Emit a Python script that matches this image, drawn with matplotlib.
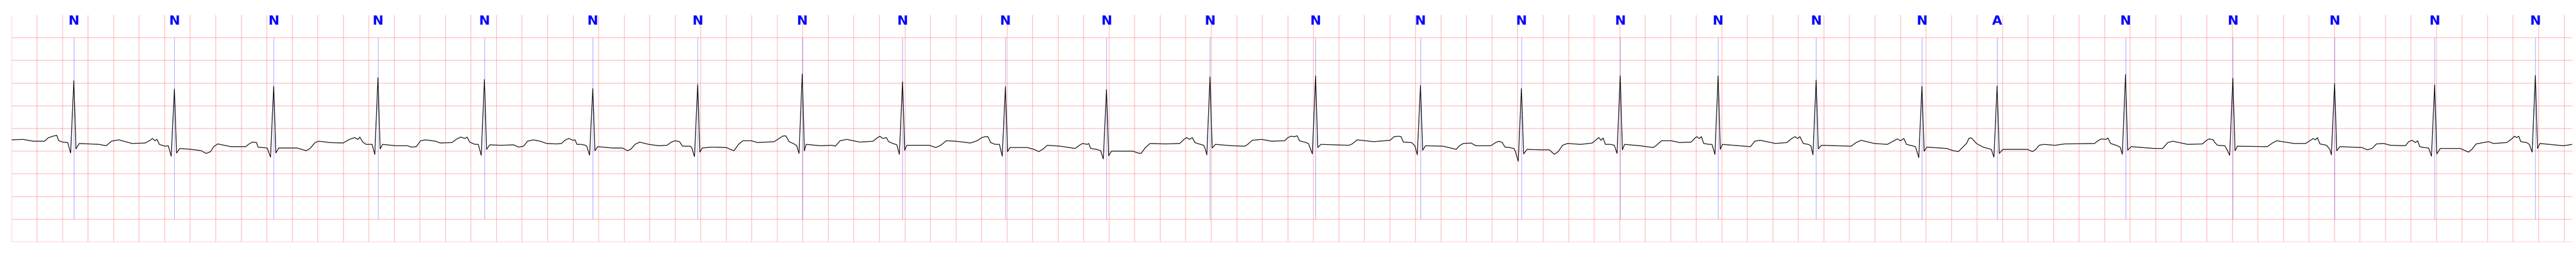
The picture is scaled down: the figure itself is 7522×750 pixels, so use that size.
import numpy as np
import matplotlib
matplotlib.use("Agg")
import matplotlib.pyplot as plt


OUTPUT_FILE = "out.png"

# annotated beats (R peak time in s) and their labels
beat_times = [0.488, 1.276, 2.054, 2.871, 3.705, 4.554, 5.376, 6.195, 6.981, 7.787,
              8.579, 9.390, 10.217, 11.039, 11.830, 12.604, 13.371, 14.139, 14.968, 15.557,
              16.563, 17.404, 18.201, 18.985, 19.774]
beat_labels = ["N", "N", "N", "N", "N", "N", "N", "N", "N", "N",
               "N", "N", "N", "N", "N", "N", "N", "N", "N", "A",
               "N", "N", "N", "N", "N"]

# QRS amplitudes (mV) per beat
r_mv = [1.55, 1.37, 1.43, 1.62, 1.58, 1.38, 1.47, 1.70, 1.53, 1.42,
        1.36, 1.64, 1.66, 1.45, 1.38, 1.66, 1.66, 1.57, 1.43, 1.44,
        1.69, 1.61, 1.49, 1.46, 1.67]
q_mv = [-0.04, -0.11, -0.13, -0.07, -0.09, -0.09, -0.12, -0.05, -0.07, -0.11,
        -0.17, -0.08, -0.06, -0.08, -0.22, -0.05, -0.07, -0.08, -0.14, -0.13,
        -0.07, -0.09, -0.08, -0.11, -0.02]
s_mv = [0.05, -0.04, -0.04, 0.05, 0.04, 0.01, -0.02, 0.01, 0.02, -0.01,
        -0.10, 0.07, 0.08, 0.02, -0.06, 0.03, 0.04, 0.05, 0.00, -0.05,
        0.02, 0.01, 0.01, -0.06, 0.06]

Q_OFFSET = -0.025
S_OFFSET = 0.017

# signal between the QRS complexes (s, mV)
base_t = [
    0.000, 0.091, 0.168, 0.259, 0.285, 0.323, 0.354, 0.370, 0.401, 0.440,
    0.530, 0.685, 0.742, 0.783, 0.840, 0.892, 0.944, 1.047, 1.086, 1.104,
    1.124, 1.140, 1.158, 1.202, 1.228, 1.318, 1.409, 1.486, 1.525, 1.559,
    1.584, 1.615, 1.719, 1.835, 1.861, 1.887, 1.920, 1.931, 2.003, 2.093,
    2.236, 2.274, 2.308, 2.339, 2.378, 2.409, 2.494, 2.597, 2.649, 2.688,
    2.714, 2.729, 2.752, 2.778, 2.825, 2.907, 3.011, 3.101, 3.135, 3.171,
    3.205, 3.243, 3.321, 3.360, 3.450, 3.489, 3.520, 3.553, 3.569, 3.590,
    3.631, 3.657, 3.747, 3.838,
    3.934, 3.973, 4.012, 4.043, 4.089, 4.141, 4.192, 4.270, 4.309, 4.335,
    4.366, 4.399, 4.415, 4.430, 4.464, 4.497, 4.508, 4.593, 4.709, 4.787,
    4.826, 4.851, 4.885, 4.921, 4.993, 5.071, 5.136, 5.169, 5.200, 5.234,
    5.257, 5.316, 5.329, 5.412, 5.484, 5.601, 5.640, 5.660, 5.696, 5.730,
    5.795, 5.846, 5.975, 6.014, 6.040, 6.066, 6.092, 6.131, 6.152, 6.226,
    6.337, 6.428, 6.454, 6.492, 6.544, 6.647, 6.751, 6.776, 6.802, 6.828,
    6.854, 6.872, 6.906, 6.937, 7.014, 7.190, 7.242, 7.280, 7.324, 7.397,
    7.513, 7.565, 7.603, 7.629, 7.650, 7.671, 7.707, 7.740, 7.823, 7.913,
    7.959, 8.011, 8.049, 8.088, 8.114, 8.217, 8.334, 8.367, 8.391, 8.429,
    8.440, 8.455, 8.502, 8.533, 8.618, 8.786, 8.825, 8.850, 8.884, 8.920,
    9.044, 9.153, 9.186, 9.207, 9.230, 9.251, 9.272, 9.303, 9.341, 9.354,
    9.432, 9.561, 9.664, 9.685, 9.721, 9.794, 9.871, 9.975, 10.000, 10.026,
    10.052, 10.073, 10.091, 10.130, 10.161, 10.259, 10.478, 10.504, 10.543, 10.672,
    10.801, 10.832, 10.866, 10.887, 10.905, 10.969, 10.995, 11.078, 11.215, 11.292,
    11.318, 11.344, 11.375, 11.435, 11.473, 11.590, 11.628, 11.654, 11.680, 11.701,
    11.737, 11.771, 11.783, 11.874,
    11.984, 12.049, 12.087, 12.118, 12.152, 12.191, 12.294, 12.385, 12.410, 12.436,
    12.454, 12.470, 12.488, 12.527, 12.558, 12.638, 12.759, 12.863, 12.888, 12.927,
    13.005, 13.069, 13.160, 13.186, 13.204, 13.224, 13.240, 13.258, 13.302, 13.323,
    13.405, 13.534, 13.625, 13.658, 13.702, 13.819, 13.909, 13.948, 13.974, 13.994,
    14.012, 14.038, 14.077, 14.098, 14.180, 14.413, 14.452, 14.491, 14.594, 14.697,
    14.749, 14.775, 14.801, 14.826, 14.847, 14.891, 14.917, 15.007, 15.162, 15.214,
    15.253, 15.292, 15.317, 15.338, 15.356, 15.395, 15.447, 15.485, 15.511, 15.602,
    15.795, 15.834, 15.860, 15.886, 15.925,
    16.008, 16.086, 16.321, 16.347, 16.373, 16.412, 16.425, 16.446, 16.490, 16.521,
    16.607, 16.789, 16.854, 16.894, 16.933, 17.050, 17.167, 17.193, 17.219, 17.250,
    17.263, 17.284, 17.341, 17.357, 17.440, 17.675, 17.714, 17.748, 17.883, 17.974,
    18.013, 18.034, 18.052, 18.066, 18.086, 18.138, 18.164, 18.243, 18.417, 18.456,
    18.495, 18.529, 18.586, 18.639, 18.756, 18.782, 18.808, 18.834, 18.852, 18.868,
    18.899, 18.938, 19.029, 19.186, 19.225, 19.251, 19.277, 19.310, 19.407, 19.446,
    19.550, 19.589, 19.610, 19.628, 19.644, 19.660, 19.706, 19.727, 19.810, 19.993,
    20.063,
]
base_mv = [
    0.25, 0.26, 0.22, 0.22, 0.29, 0.33, 0.35, 0.23, 0.20, 0.19,
    0.17, 0.15, 0.12, 0.22, 0.25, 0.21, 0.17, 0.18, 0.24, 0.28,
    0.23, 0.26, 0.15, 0.11, 0.12, 0.06, 0.04, 0.01, -0.05, -0.01,
    0.10, 0.16, 0.10, 0.10, 0.16, 0.20, 0.19, 0.09, 0.07, 0.07,
    0.07, 0.04, 0.01, 0.06, 0.19, 0.22, 0.19, 0.18, 0.26, 0.30,
    0.26, 0.31, 0.20, 0.15, 0.15, 0.15, 0.12, 0.12, 0.09, 0.10,
    0.23, 0.25, 0.22, 0.18, 0.19, 0.27, 0.31, 0.28, 0.31, 0.20,
    0.15, 0.15, 0.14, 0.13,
    0.14, 0.09, 0.11, 0.22, 0.25, 0.22, 0.17, 0.16, 0.17, 0.24,
    0.28, 0.24, 0.25, 0.15, 0.15, 0.13, 0.10, 0.10, 0.07, 0.07,
    0.01, 0.04, 0.15, 0.20, 0.15, 0.12, 0.13, 0.20, 0.23, 0.21,
    0.11, 0.11, 0.08, 0.07, 0.09, 0.08, 0.03, 0.01, 0.15, 0.23,
    0.23, 0.19, 0.21, 0.28, 0.33, 0.34, 0.21, 0.16, 0.12, 0.15,
    0.12, 0.13, 0.11, 0.23, 0.26, 0.20, 0.22, 0.28, 0.33, 0.28,
    0.30, 0.21, 0.17, 0.14, 0.13, 0.13, 0.08, 0.13, 0.23, 0.22,
    0.18, 0.23, 0.30, 0.32, 0.32, 0.19, 0.15, 0.15, 0.08, 0.08,
    0.08, 0.04, -0.01, 0.06, 0.13, 0.11, 0.06, 0.13, 0.17, 0.15,
    0.17, 0.06, 0.04, 0.01, 0.00, 0.00, -0.04, -0.05, 0.08, 0.17,
    0.16, 0.17, 0.26, 0.30, 0.26, 0.30, 0.19, 0.16, 0.13, 0.04,
    0.15, 0.12, 0.11, 0.15, 0.24, 0.26, 0.22, 0.23, 0.30, 0.33,
    0.32, 0.34, 0.23, 0.20, 0.17, 0.15, 0.13, 0.16, 0.25, 0.21,
    0.24, 0.32, 0.33, 0.32, 0.20, 0.19, 0.12, 0.12, 0.11, 0.06,
    0.04, 0.12, 0.17, 0.18, 0.12, 0.12, 0.19, 0.22, 0.19, 0.09,
    0.08, 0.06, -0.01, 0.04,
    0.03, 0.03, -0.07, -0.01, 0.13, 0.17, 0.15, 0.18, 0.24, 0.30,
    0.24, 0.29, 0.15, 0.15, 0.13, 0.15, 0.12, 0.08, 0.13, 0.23,
    0.23, 0.19, 0.20, 0.28, 0.32, 0.28, 0.32, 0.17, 0.15, 0.15,
    0.15, 0.12, 0.10, 0.22, 0.24, 0.17, 0.19, 0.28, 0.32, 0.28,
    0.32, 0.17, 0.15, 0.12, 0.13, 0.11, 0.19, 0.24, 0.17, 0.15,
    0.23, 0.27, 0.23, 0.28, 0.15, 0.12, 0.10, 0.09, 0.06, 0.01,
    -0.01, 0.10, 0.17, 0.29, 0.29, 0.17, 0.09, 0.06, 0.04, 0.04,
    0.04, -0.01, 0.04, 0.13, 0.15,
    0.13, 0.16, 0.17, 0.23, 0.27, 0.26, 0.29, 0.17, 0.13, 0.09,
    0.10, 0.06, 0.06, 0.19, 0.22, 0.15, 0.16, 0.23, 0.27, 0.25,
    0.19, 0.13, 0.12, 0.04, 0.11, 0.10, 0.18, 0.23, 0.17, 0.17,
    0.24, 0.28, 0.25, 0.30, 0.16, 0.13, 0.04, 0.10, 0.08, 0.03,
    0.06, 0.16, 0.17, 0.13, 0.12, 0.21, 0.24, 0.19, 0.23, 0.10,
    0.08, 0.07, 0.06, 0.06, 0.01, -0.02, 0.04, 0.16, 0.21, 0.17,
    0.19, 0.27, 0.33, 0.30, 0.33, 0.21, 0.19, 0.15, 0.17, 0.12,
    0.15,
]


def build_trace():
    t = list(base_t)
    v = list(base_mv)

    for tb, q, r, s in zip(beat_times, q_mv, r_mv, s_mv):
        t += [tb + Q_OFFSET, tb, tb + S_OFFSET]
        v += [q, r, s]

    order = np.argsort(t)
    return np.array(t)[order], np.array(v)[order]


def main():
    t, v = build_trace()

    fig = plt.figure(figsize=(75.22, 7.5), dpi=100)
    ax = fig.add_axes([33.7 / 7522, 44 / 750, (7511 - 33.7) / 7522, 662 / 750])

    ax.set_xlim(0, 20.063)
    ax.set_ylim(-2.0, 3.0)

    # ECG paper grid: 0.2 s x 0.5 mV
    ax.set_xticks(np.arange(0, 20.001, 0.2))
    ax.set_yticks(np.arange(-2.0, 2.501, 0.5))
    ax.set_axisbelow(True)
    ax.grid(True, color="red", alpha=0.25, linewidth=1.5)
    ax.tick_params(length=0, labelbottom=False, labelleft=False)
    for spine in ax.spines.values():
        spine.set_visible(False)

    ax.vlines(beat_times, -1.5, 2.5, color="blue", linewidth=0.8, alpha=0.5)

    ax.plot(t, v, color="black", linewidth=1.4)

    for tb, label in zip(beat_times, beat_labels):
        ax.text(
            tb, 3.0, label,
            color="blue",
            fontsize=27.5,
            fontweight="bold",
            ha="center",
            va="top",
            family=["Liberation Sans Narrow", "DejaVu Sans"],
        )

    fig.savefig(OUTPUT_FILE, dpi=100)


if __name__ == "__main__":
    main()
